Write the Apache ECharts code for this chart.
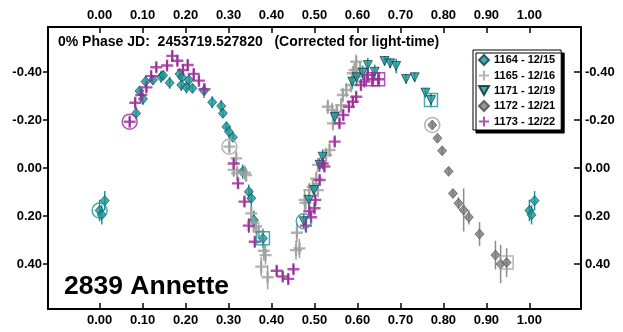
<!DOCTYPE html>
<html>
<head>
<meta charset="utf-8">
<script src="https://cdn.jsdelivr.net/npm/echarts@6/dist/echarts.min.js"></script>
<style>
  html, body { margin: 0; padding: 0; background: #fff; }
  #chart { width: 623px; height: 332px; }
</style>
</head>
<body>
<div id="chart"></div>
<script>
// Lightcurve of 2839 Annette: [phase, reduced magnitude, error]
const s1164 = [
  [0.000, 0.177, 0.045], [0.005, 0.195, 0.040], [0.012, 0.136, 0.040],
  [0.085, -0.228, 0.025], [0.093, -0.321, 0.020], [0.101, -0.288, 0.025],
  [0.107, -0.360, 0.025], [0.124, -0.367, 0.020], [0.143, -0.380, 0.025],
  [0.148, -0.386, 0.020], [0.163, -0.355, 0.025], [0.186, -0.392, 0.025],
  [0.192, -0.378, 0.020], [0.190, -0.346, 0.025], [0.202, -0.336, 0.025],
  [0.208, -0.367, 0.025], [0.216, -0.332, 0.020], [0.243, -0.322, 0.030],
  [0.262, -0.274, 0.025], [0.283, -0.258, 0.025], [0.287, -0.228, 0.020],
  [0.295, -0.172, 0.020], [0.301, -0.151, 0.020], [0.310, -0.128, 0.020],
  [0.333, 0.015, 0.030], [0.347, 0.099, 0.030], [0.353, 0.126, 0.040],
  [0.359, 0.217, 0.040], [0.380, 0.293, 0.040]
];
const s1165 = [
  [0.302, -0.089, 0.025], [0.312, 0.008, 0.030], [0.318, -0.040, 0.030],
  [0.320, 0.022, 0.030], [0.338, 0.020, 0.030], [0.341, 0.029, 0.030],
  [0.353, 0.189, 0.030], [0.358, 0.228, 0.040], [0.364, 0.244, 0.030],
  [0.370, 0.265, 0.030], [0.376, 0.411, 0.040], [0.382, 0.345, 0.040],
  [0.386, 0.363, 0.040], [0.391, 0.455, 0.050],
  [0.457, 0.342, 0.040], [0.459, 0.270, 0.040], [0.465, 0.335, 0.040],
  [0.477, 0.133, 0.040], [0.479, 0.145, 0.030], [0.488, 0.092, 0.030],
  [0.496, 0.078, 0.030], [0.504, 0.045, 0.030], [0.508, 0.092, 0.030],
  [0.508, -0.013, 0.030], [0.527, -0.054, 0.030], [0.535, -0.075, 0.030],
  [0.531, -0.255, 0.030], [0.541, -0.242, 0.030], [0.543, -0.186, 0.030],
  [0.552, -0.235, 0.030], [0.562, -0.262, 0.030], [0.566, -0.304, 0.030],
  [0.574, -0.325, 0.030], [0.585, -0.346, 0.030], [0.589, -0.395, 0.030],
  [0.593, -0.408, 0.030], [0.598, -0.380, 0.030], [0.597, -0.443, 0.030],
  [0.606, -0.415, 0.030]
];
const s1171 = [
  [0.475, 0.222, 0.030], [0.487, 0.133, 0.030], [0.499, 0.092, 0.030],
  [0.512, -0.013, 0.030], [0.519, -0.047, 0.030], [0.547, -0.212, 0.030],
  [0.588, -0.360, 0.030], [0.598, -0.378, 0.030], [0.612, -0.397, 0.030],
  [0.624, -0.429, 0.030], [0.640, -0.401, 0.030], [0.663, -0.446, 0.020],
  [0.676, -0.436, 0.020], [0.690, -0.425, 0.030], [0.713, -0.371, 0.020],
  [0.733, -0.378, 0.020], [0.758, -0.314, 0.020], [0.771, -0.283, 0.030]
];
const s1172 = [
  [0.774, -0.179, 0.015], [0.786, -0.124, 0.015], [0.797, -0.072, 0.015],
  [0.812, 0.014, 0.015], [0.822, 0.106, 0.015], [0.835, 0.147, 0.025],
  [0.847, 0.175, 0.090], [0.859, 0.205, 0.030], [0.884, 0.275, 0.050],
  [0.921, 0.363, 0.060], [0.933, 0.400, 0.080], [0.947, 0.394, 0.060]
];
const s1173 = [
  [0.070, -0.193, 0.020], [0.083, -0.272, 0.020], [0.097, -0.304, 0.020],
  [0.109, -0.336, 0.020], [0.120, -0.383, 0.020], [0.132, -0.420, 0.020],
  [0.157, -0.427, 0.020], [0.169, -0.467, 0.020], [0.181, -0.447, 0.020],
  [0.194, -0.408, 0.020], [0.205, -0.429, 0.020], [0.219, -0.392, 0.020],
  [0.231, -0.364, 0.020], [0.244, -0.328, 0.020],
  [0.312, -0.019, 0.020], [0.322, 0.064, 0.020], [0.337, 0.140, 0.020],
  [0.347, 0.240, 0.030], [0.361, 0.307, 0.020],
  [0.412, 0.428, 0.020], [0.426, 0.452, 0.020], [0.439, 0.462, 0.020],
  [0.451, 0.422, 0.020],
  [0.480, 0.240, 0.030], [0.488, 0.180, 0.020], [0.492, 0.205, 0.020],
  [0.500, 0.168, 0.020], [0.502, 0.133, 0.020], [0.512, 0.050, 0.020],
  [0.519, -0.019, 0.020], [0.523, -0.006, 0.020], [0.547, -0.110, 0.020],
  [0.558, -0.186, 0.020], [0.567, -0.221, 0.020], [0.580, -0.255, 0.020],
  [0.589, -0.276, 0.020], [0.597, -0.297, 0.020], [0.608, -0.346, 0.020],
  [0.616, -0.360, 0.020], [0.624, -0.388, 0.020], [0.636, -0.370, 0.020],
  [0.648, -0.370, 0.020]
];

const sessionNames = ['1164 - 12/15', '1165 - 12/16', '1171 - 12/19', '1172 - 12/21', '1173 - 12/22'];
const phaseTicks = [0.0, 0.1, 0.2, 0.3, 0.4, 0.5, 0.6, 0.7, 0.8, 0.9, 1.0];
const magTicks = [-0.4, -0.2, 0.0, 0.2, 0.4];
const epochText = '0% Phase JD:  2453719.527820   (Corrected for light-time)';
const objectName = '2839 Annette';

// Points of the first session that fall just past phase 0 are repeated one cycle later
const s1164Wrapped = s1164.concat(s1164.filter(p => p[0] < 0.02).map(p => [p[0] + 1, p[1], p[2]]));

const TEAL = '#16989a';
const TEAL_EDGE = '#0b3f40';
const GREY_PLUS = '#a0a0a0';
const GREY_DIAM = '#7a7a7a';
const PURPLE = '#9a2a98';
const FONT = 'Liberation Sans, Arial, sans-serif';
const PLUS = 'path://M4,0h2v10h-2zM0,4h10v2h-10z';
const TRI_DOWN = 'path://M0,0L10,0L5,9Z';

function errorBars(name, pts, color) {
  return {
    type: 'custom', name: name, silent: true, z: 1,
    data: pts.map(p => [p[0], p[1] - p[2], p[1] + p[2]]),
    encode: { x: 0, y: [1, 2] },
    renderItem: function (params, api) {
      const a = api.coord([api.value(0), api.value(1)]);
      const b = api.coord([api.value(0), api.value(2)]);
      return { type: 'line', shape: { x1: a[0], y1: a[1], x2: b[0], y2: b[1] },
               style: { stroke: color, lineWidth: 1.5 } };
    }
  };
}

function ring(name, pts, color, symbol) {
  return {
    type: 'scatter', name: name, silent: true, z: 4,
    symbol: symbol, symbolSize: symbol === 'circle' ? 15 : 13,
    itemStyle: { color: 'rgba(0,0,0,0)', borderColor: color, borderWidth: 1.5 },
    data: pts.map(p => [p[0], p[1]])
  };
}

const pts = list => list.map(p => [p[0], p[1]]);

const axisFont = { fontFamily: FONT, fontSize: 13, fontWeight: 'bold', color: '#000' };
const fmt = v => Number(v).toFixed(2);

const option = {
  animation: false,
  backgroundColor: '#fff',
  title: [
    { text: epochText, left: 58, top: 35, padding: 0,
      textStyle: { fontFamily: FONT, fontSize: 14, fontWeight: 'bold', color: '#000' } },
    { text: objectName, left: 64, top: 273, padding: 0,
      textStyle: { fontFamily: FONT, fontSize: 26.5, fontWeight: 'bold', color: '#000' } }
  ],
  legend: {
    data: sessionNames,
    orient: 'vertical', left: 473, top: 50,
    padding: [4, 6, 3, 5], itemGap: 4, itemWidth: 10, itemHeight: 10,
    backgroundColor: '#fff', borderColor: '#000', borderWidth: 1,
    shadowColor: '#000', shadowOffsetX: 3, shadowOffsetY: 3, shadowBlur: 0,
    selectedMode: false,
    textStyle: { fontFamily: FONT, fontSize: 11, fontWeight: 'bold', color: '#000' }
  },
  grid: { left: 48, top: 27, right: 42, bottom: 23, containLabel: false },
  xAxis: [
    { type: 'value', position: 'bottom', min: -0.12, max: 1.12,
      axisLine: { onZero: false, lineStyle: { color: '#000', width: 2 } },
      axisTick: { inside: true, length: 6, customValues: phaseTicks, lineStyle: { color: '#000', width: 1.5 } },
      axisLabel: Object.assign({ customValues: phaseTicks, margin: 5, formatter: fmt }, axisFont),
      splitLine: { show: false } },
    { type: 'value', position: 'top', min: -0.12, max: 1.12,
      axisLine: { onZero: false, lineStyle: { color: '#000', width: 2 } },
      axisTick: { inside: true, length: 6, customValues: phaseTicks, lineStyle: { color: '#000', width: 1.5 } },
      axisLabel: Object.assign({ customValues: phaseTicks, margin: 5, formatter: fmt }, axisFont),
      splitLine: { show: false } }
  ],
  yAxis: [
    { type: 'value', position: 'left', inverse: true, min: -0.5875, max: 0.5875,
      axisLine: { onZero: false, lineStyle: { color: '#000', width: 2 } },
      axisTick: { inside: false, length: 5, customValues: magTicks, lineStyle: { color: '#000', width: 1.5 } },
      axisLabel: Object.assign({ customValues: magTicks, margin: 6, formatter: fmt }, axisFont),
      splitLine: { show: false } },
    { type: 'value', position: 'right', inverse: true, min: -0.5875, max: 0.5875,
      axisLine: { onZero: false, lineStyle: { color: '#000', width: 2 } },
      axisTick: { inside: true, length: 7, customValues: magTicks, lineStyle: { color: '#000', width: 1.5 } },
      axisLabel: Object.assign({ customValues: magTicks, margin: 4, formatter: fmt }, axisFont),
      splitLine: { show: false } }
  ],
  series: [
    errorBars('e1164', s1164Wrapped, TEAL),
    errorBars('e1165', s1165, GREY_PLUS),
    errorBars('e1171', s1171, TEAL),
    errorBars('e1172', s1172, '#8c8c8c'),
    errorBars('e1173', s1173, PURPLE),
    { type: 'scatter', name: sessionNames[0], z: 3, symbol: 'diamond', symbolSize: [9, 10],
      itemStyle: { color: TEAL, borderColor: TEAL_EDGE, borderWidth: 0.8 }, data: pts(s1164Wrapped) },
    { type: 'scatter', name: sessionNames[1], z: 3, symbol: PLUS, symbolSize: 12,
      itemStyle: { color: GREY_PLUS }, data: pts(s1165) },
    { type: 'scatter', name: sessionNames[2], z: 3, symbol: TRI_DOWN, symbolSize: [9, 9],
      itemStyle: { color: TEAL, borderColor: '#06292a', borderWidth: 0.8 }, data: pts(s1171) },
    { type: 'scatter', name: sessionNames[3], z: 3, symbol: 'diamond', symbolSize: [9, 10],
      itemStyle: { color: GREY_DIAM, borderColor: '#4a4a4a', borderWidth: 0.8 }, data: pts(s1172) },
    { type: 'scatter', name: sessionNames[4], z: 3, symbol: PLUS, symbolSize: 12,
      itemStyle: { color: PURPLE }, data: pts(s1173) },
    // session start (circle) and end (square) markers
    ring('start1164', [s1164[0]], TEAL, 'circle'),
    ring('end1164', [s1164[s1164.length - 1]], TEAL, 'rect'),
    ring('start1165', [s1165[0]], GREY_PLUS, 'circle'),
    ring('start1171', [s1171[0]], TEAL, 'circle'),
    ring('end1171', [s1171[s1171.length - 1]], TEAL, 'rect'),
    ring('start1172', [s1172[0]], GREY_PLUS, 'circle'),
    ring('end1172', [s1172[s1172.length - 1]], GREY_PLUS, 'rect'),
    ring('start1173', [s1173[0]], PURPLE, 'circle'),
    ring('end1173', s1173.slice(-2), PURPLE, 'rect')
  ]
};

const chart = echarts.init(document.getElementById('chart'), null, { renderer: 'canvas' });
chart.setOption(option);
</script>
</body>
</html>
